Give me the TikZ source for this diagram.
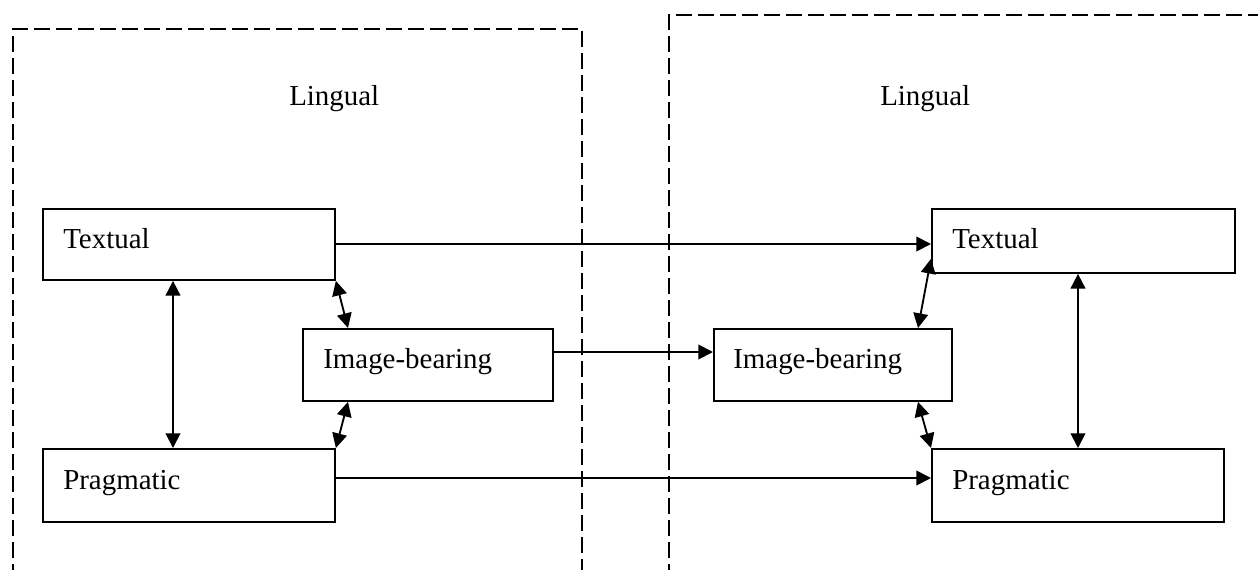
\documentclass[tikz,border=0pt]{standalone}
\usepackage{fontspec}
\setmainfont{Liberation Serif}
\usetikzlibrary{arrows.meta,calc}

\tikzset{
  box/.style={draw, line width=1.4pt, rectangle, inner sep=0pt, anchor=north west},
  lbl/.style={anchor=base west, inner sep=0pt, font=\fontsize{21.7}{26}\selectfont},
  frame/.style={line width=1.4pt, dash pattern=on 12pt off 4.5pt},
  arr/.style={line width=1.4pt, -{Triangle[length=11pt,width=11pt]}},
  biarr/.style={line width=1.4pt, {Triangle[length=11pt,width=11pt]}-{Triangle[length=11pt,width=11pt]}}
}

\begin{document}
\begin{tikzpicture}[x=0.75pt, y=-0.75pt]
\useasboundingbox (0,0) rectangle (1258,569);
\clip (0,0) rectangle (1258,569);

% dashed frames of the two lingual domains
\draw[frame] (13,580) -- (13,29) -- (582,29) -- (582,580);
\draw[frame] (669,580) -- (669,15) -- (1270,15);

\node[lbl] (ling1) at (289,105) {Lingual};
\node[lbl] (ling2) at (880,105) {Lingual};

% left group
\node[box, minimum width=219pt, minimum height=53.25pt] (tl) at (42,208) {};
\node[box, minimum width=187.5pt, minimum height=54pt] (il) at (302,328) {};
\node[box, minimum width=219pt, minimum height=54.75pt] (pl) at (42,448) {};

% right group
\node[box, minimum width=227.25pt, minimum height=48pt] (tr) at (931,208) {};
\node[box, minimum width=178.5pt, minimum height=54pt] (ir) at (713,328) {};
\node[box, minimum width=219pt, minimum height=54.75pt] (pr) at (931,448) {};

% box labels
\node[lbl] (tlt) at ($(tl.north west)+(21,40)$) {Textual};
\node[lbl] (ilt) at ($(il.north west)+(21,40)$) {Image-bearing};
\node[lbl] (plt) at ($(pl.north west)+(21,41)$) {Pragmatic};
\node[lbl] (trt) at ($(tr.north west)+(21,40)$) {Textual};
\node[lbl] (irt) at ($(ir.north west)+(20,40)$) {Image-bearing};
\node[lbl] (prt) at ($(pr.north west)+(21,41)$) {Pragmatic};

% start points of the links between the groups
\coordinate (ts) at ($(tl.north east)+(0,36)$);
\coordinate (is) at ($(il.north east)+(0,24)$);
\coordinate (ps) at ($(pl.north east)+(0,30)$);

% connections between the groups
\draw[arr] (ts) -- (ts -| tr.west);
\draw[arr] (is) -- (is -| ir.west);
\draw[arr] (ps) -- (ps -| pr.west);

% connections within the left group
\draw[biarr] ($(tl.south west)+(131,0)$) -- ($(pl.north west)+(131,0)$);
\draw[biarr] (tl.south east) -- ($(il.north west)+(46,0)$);
\draw[biarr] ($(il.south west)+(46,0)$) -- (pl.north east);

% connections within the right group
\draw[biarr] ($(tr.south west)+(147,0)$) -- ($(pr.north west)+(147,0)$);
\draw[biarr] ($(ir.north west)+(205,0)$) -- ($(tr.south west)+(0,-15)$);
\draw[biarr] ($(ir.south west)+(205,0)$) -- (pr.north west);
\end{tikzpicture}
\end{document}
